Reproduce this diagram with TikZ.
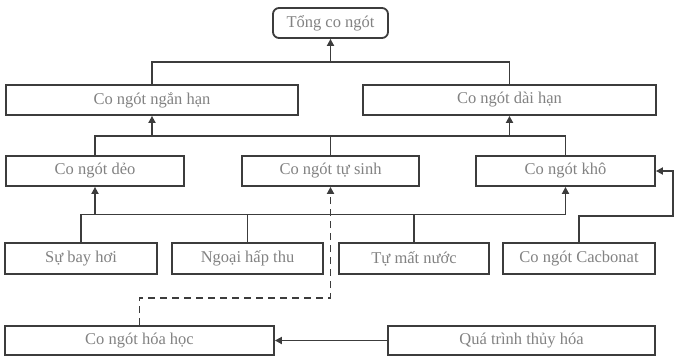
\documentclass[tikz,border=0pt]{standalone}
\usepackage{fontspec}
\setmainfont{Liberation Serif}
\usetikzlibrary{arrows.meta}
\definecolor{linec}{HTML}{3C3C3C}
\definecolor{textc}{HTML}{828282}
\begin{document}
\begin{tikzpicture}[x=1pt,y=1pt,
  box/.style={draw=linec,line width=1.8pt,fill=white,inner sep=0pt,
    text=textc,font=\fontsize{16.5}{19}\selectfont},
  conn/.style={draw=linec,line width=1.7pt},
  arr/.style={conn,-{Triangle[length=7pt,width=7pt]}},
  dsh/.style={arr,dash pattern=on 7pt off 5pt}]
\useasboundingbox (0,0) rectangle (677,-359);
% boxes: centre (x,-y), size
\node[box,rounded corners=6pt,minimum width=115,minimum height=30] (tong) at (330.5,-23) {Tổng co ngót};
\node[box,minimum width=292,minimum height=30] (ngan) at (152,-100) {Co ngót ngắn hạn};
\node[box,minimum width=293,minimum height=30] (dai) at (509.5,-100) {Co ngót dài hạn};
\node[box,minimum width=178,minimum height=30] (deo) at (95,-171) {Co ngót dẻo};
\node[box,minimum width=177,minimum height=30] (tusinh) at (330.5,-171) {Co ngót tự sinh};
\node[box,minimum width=179,minimum height=30] (kho) at (565.5,-171) {Co ngót khô};
\node[box,minimum width=152,minimum height=31] (bayhoi) at (81,-258.5) {Sự bay hơi};
\node[box,minimum width=151,minimum height=31] (ngoai) at (247.5,-258.5) {Ngoại hấp thu};
\node[box,minimum width=150,minimum height=31] (matnuoc) at (414,-258.5) {Tự mất nước};
\node[box,minimum width=152,minimum height=31] (cacbonat) at (579,-258.5) {Co ngót Cacbonat};
\node[box,minimum width=269,minimum height=29] (hoahoc) at (139.5,-340.5) {Co ngót hóa học};
\node[box,minimum width=267,minimum height=29] (thuyhoa) at (521.5,-340.5) {Quá trình thủy hóa};
% junction coordinates
\coordinate (top) at (330.5,-62);
\coordinate (mid) at (330.5,-136);
\coordinate (low) at (0,-214.5);
\coordinate (cr) at (673,-216);
\coordinate (dj) at (139.5,-298);
% level 1
\draw[conn] (ngan.north) |- (top) -| (dai.north);
\draw[arr] (top) -- (tong.south);
% level 2
\draw[conn] (deo.north) |- (mid) -| (kho.north);
\draw[conn] (tusinh.north) -- (mid);
\draw[arr] (ngan.south |- mid) -- (ngan.south);
\draw[arr] (dai.south |- mid) -- (dai.south);
% level 3
\draw[conn] (bayhoi.north) |- (kho.south |- low);
\draw[conn] (ngoai.north) -- (ngoai.north |- low);
\draw[conn] (matnuoc.north) -- (matnuoc.north |- low);
\draw[arr] (deo.south |- low) -- (deo.south);
\draw[arr] (kho.south |- low) -- (kho.south);
% cacbonat loop
\draw[arr] (cacbonat.north) |- (cr) |- (kho.east);
% dashed
\draw[dsh] (hoahoc.north) |- (dj) -| (tusinh.south);
% bottom
\draw[arr] (thuyhoa.west) -- (hoahoc.east);
\end{tikzpicture}
\end{document}
